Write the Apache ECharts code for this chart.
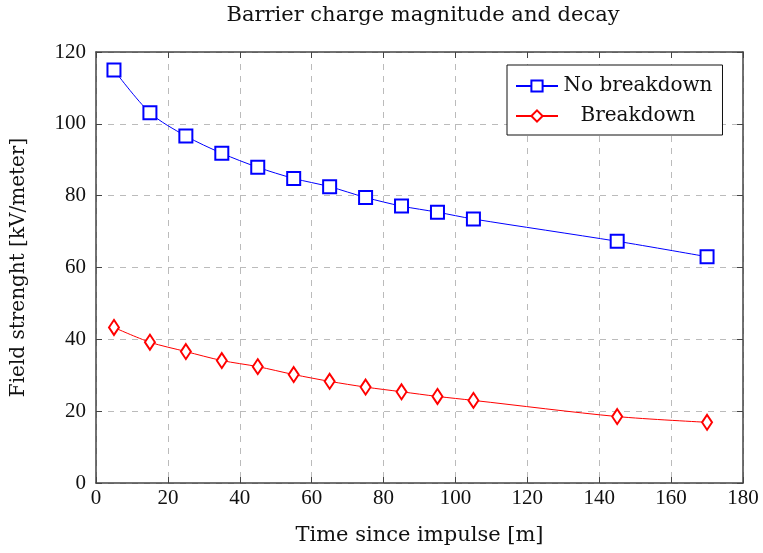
<!DOCTYPE html>
<html><head><meta charset="utf-8">
<script src="https://cdn.jsdelivr.net/npm/echarts@6/dist/echarts.min.js"></script>
<style>html,body{margin:0;padding:0;background:#fff}#c{width:763px;height:553px}</style>
</head><body><div id="c"></div>
<script>
const timeValues = [5, 15, 25, 35, 45, 55, 65, 75, 85, 95, 105, 145, 170];
const noBreakdown = [115.0, 103.1, 96.6, 91.8, 87.9, 84.8, 82.5, 79.5, 77.1, 75.4, 73.5, 67.3, 63.0];
const breakdown = [43.3, 39.2, 36.6, 34.1, 32.4, 30.2, 28.3, 26.7, 25.4, 24.1, 23.0, 18.5, 16.9];
const seriesNames = ['No breakdown', 'Breakdown'];
const titleText = 'Barrier charge magnitude and decay';
const xName = 'Time since impulse [m]';
const yName = 'Field strenght [kV/meter]';

const FONT = 'DejaVu Serif';
const NUMFONT = 'Liberation Serif';
const axisColor = '#444';
const gridStyle = {show: true, lineStyle: {color: '#bbb', type: [6, 6], width: 1}};
function pairs(xs, ys){ return xs.map((x,i)=>[x, ys[i]]); }

const chart = echarts.init(document.getElementById('c'), null, {renderer: 'canvas'});
chart.setOption({
  backgroundColor: '#fff',
  animation: false,
  title: {text: titleText, left: 418, textAlign: 'center', top: 0,
    textStyle: {fontFamily: FONT, fontSize: 21, fontWeight: 'normal', color: '#111'}},
  grid: {left: 96, right: 20, top: 52, bottom: 70, containLabel: false, outerBoundsMode: 'none'},
  legend: {
    orient: 'vertical', left: 507, top: 65, width: 216,
    backgroundColor: '#fff', borderColor: '#111', borderWidth: 1,
    padding: [11, 10, 9, 8], itemGap: 10, itemWidth: 42, itemHeight: 14,
    formatter: n => '{a|' + n + '}',
    textStyle: {fontFamily: FONT, fontSize: 20, color: '#111',
      rich: {a: {fontFamily: FONT, fontSize: 20, width: 150, align: 'center', color: '#111'}}},
    data: seriesNames
  },
  xAxis: [{
    type: 'value', min: 0, max: 180, interval: 20, position: 'bottom',
    name: xName, nameLocation: 'middle', nameGap: 42,
    nameTextStyle: {fontFamily: FONT, fontSize: 21, color: '#111'},
    axisLine: {show: true, onZero: false, lineStyle: {color: axisColor, width: 1.5}},
    axisTick: {show: true, inside: true, length: 6, lineStyle: {color: axisColor}},
    axisLabel: {fontFamily: NUMFONT, fontSize: 21, color: '#111', margin: 5},
    splitLine: gridStyle
  }, {
    type: 'value', min: 0, max: 180, interval: 20, position: 'top',
    axisLine: {show: true, onZero: false, lineStyle: {color: axisColor, width: 1.5}},
    axisTick: {show: true, inside: true, length: 6, lineStyle: {color: axisColor}},
    axisLabel: {show: false}, splitLine: {show: false}
  }],
  yAxis: [{
    type: 'value', min: 0, max: 120, interval: 20, position: 'left',
    name: yName, nameLocation: 'middle', nameGap: 67,
    nameTextStyle: {fontFamily: FONT, fontSize: 20, color: '#111'},
    axisLine: {show: true, onZero: false, lineStyle: {color: axisColor, width: 1.5}},
    axisTick: {show: true, inside: true, length: 6, lineStyle: {color: axisColor}},
    axisLabel: {fontFamily: NUMFONT, fontSize: 21, color: '#111', margin: 10},
    splitLine: gridStyle
  }, {
    type: 'value', min: 0, max: 120, interval: 20, position: 'right',
    axisLine: {show: true, onZero: false, lineStyle: {color: axisColor, width: 1.5}},
    axisTick: {show: true, inside: true, length: 6, lineStyle: {color: axisColor}},
    axisLabel: {show: false}, splitLine: {show: false}
  }],
  series: [{
    name: seriesNames[0], type: 'line', data: pairs(timeValues, noBreakdown),
    symbol: 'emptyRect', symbolSize: 13, smooth: 0.3,
    lineStyle: {color: '#0000ff', width: 1},
    itemStyle: {color: '#0000ff', borderColor: '#0000ff', borderWidth: 1}
  }, {
    name: seriesNames[1], type: 'line', data: pairs(timeValues, breakdown),
    symbol: 'emptyDiamond', symbolSize: [10, 15], smooth: 0.3,
    lineStyle: {color: '#ff0000', width: 1},
    itemStyle: {color: '#ff0000', borderColor: '#ff0000', borderWidth: 1}
  }]
});
</script></body></html>
